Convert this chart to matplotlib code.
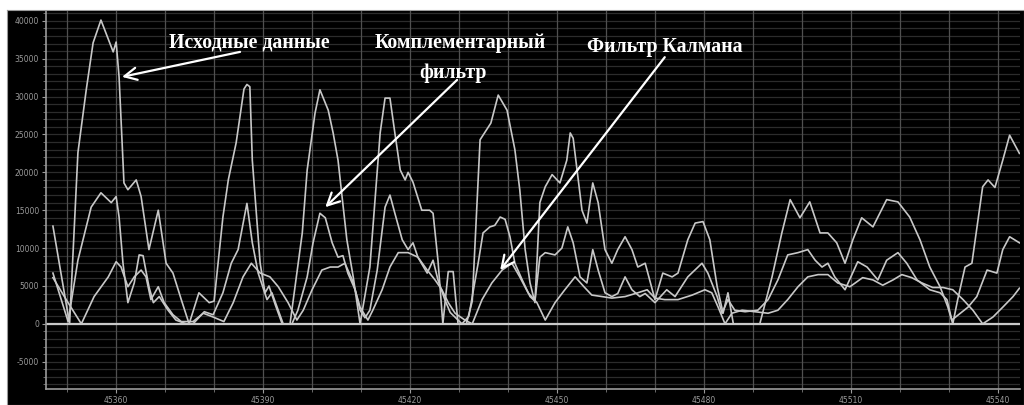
import matplotlib.pyplot as plt
import numpy as np

# raw sensor data
raw_x = [45347.1, 45350.5, 45352.2, 45353.9, 45355.3, 45356.9, 45359.4, 45360.0, 45360.6,
         45361.6, 45362.4, 45364.1, 45365.1, 45366.7, 45368.6, 45370.2, 45371.6, 45373.3,
         45374.9, 45376.9, 45379.0, 45380.0, 45381.8, 45382.9, 45384.5, 45386.1, 45386.7,
         45387.3, 45387.8, 45389.4, 45390.4, 45391.2, 45392.5, 45393.9, 45395.5, 45398.0, 45399.0,
         45400.6, 45401.6, 45403.3, 45404.3, 45405.3, 45407.1, 45408.4, 45409.8, 45411.8,
         45413.9, 45414.9, 45415.9, 45416.9, 45418.0, 45419.0, 45419.6, 45420.6, 45422.4,
         45424.0, 45424.7, 45425.7, 45426.7, 45427.8, 45428.8, 45429.8, 45431.5, 45432.7,
         45434.3, 45436.5, 45438.0, 45439.8, 45441.4, 45442.4, 45443.5, 45444.5, 45445.5,
         45446.5, 45447.6, 45449.0, 45450.6, 45452.0, 45452.7, 45453.3, 45454.1, 45455.1,
         45456.1, 45457.3, 45458.4, 45459.8, 45461.2, 45462.4, 45463.9, 45465.3, 45466.5,
         45468.0, 45470.0, 45471.6, 45473.5, 45474.7, 45476.7, 45478.2, 45479.8, 45481.2,
         45482.7, 45483.9, 45484.9, 45486.0, 45491.4, 45493.9, 45495.9, 45497.6, 45499.6,
         45501.6, 45503.7, 45505.3, 45507.1, 45508.8, 45510.4, 45512.2, 45514.5, 45517.3,
         45519.6, 45522.0, 45524.1, 45526.1, 45528.2, 45529.8, 45530.8, 45531.8, 45533.3,
         45534.7, 45536.9, 45538.0, 45539.4, 45541.0, 45542.4, 45544.4]
raw_y = [12900, 0, 22600, 30900, 37100, 40100, 35900, 37200, 32600,
         18600, 17700, 19000, 16800, 9800, 15000, 8000, 6700, 3200,
         0, 4100, 2800, 3000, 14100, 19000, 23900, 31000, 31600,
         31300, 21600, 8000, 4100, 5000, 2500, 0, 0, 12000, 20300,
         27800, 30900, 28200, 25200, 21600, 11100, 6200, 0, 7500,
         25200, 29800, 29800, 25200, 20300, 19000, 20000, 18700, 15000,
         15000, 14600, 8400, 0, 6900, 6900, 0, 0, 3000,
         24300, 26500, 30200, 28200, 23000, 17700, 9800, 5400, 2800,
         16000, 18100, 19700, 18600, 21600, 25200, 24500, 20300, 15000,
         13300, 18600, 16000, 9800, 8000, 9800, 11500, 9800, 7500,
         8000, 3200, 6700, 6200, 6700, 11100, 13300, 13500, 11100,
         4900, 1400, 4100, 0, 0, 6200, 12000, 16400, 14000,
         16100, 12000, 12000, 10700, 8000, 11100, 14000, 12800, 16400,
         16100, 14100, 11100, 7500, 4900, 2200, 0, 3200, 7500,
         8000, 18100, 19000, 18000, 21600, 24900, 22500]

# complementary filter
comp_x = [45347.1, 45350.2, 45352.2, 45354.9, 45356.9, 45359.0, 45360.0, 45360.6, 45361.4,
          45362.4, 45363.7, 45364.7, 45365.5, 45366.7, 45367.6, 45368.8, 45370.6, 45372.2,
          45374.3, 45375.7, 45378.0, 45379.8, 45381.8, 45383.5, 45384.9, 45386.7, 45387.8,
          45389.0, 45390.8, 45391.8, 45393.1, 45394.1, 45395.9, 45397.1, 45399.0, 45400.2,
          45401.6, 45402.7, 45404.1, 45405.3, 45406.3, 45407.3, 45408.8, 45409.8, 45410.8,
          45411.8, 45413.3, 45414.9, 45415.9, 45416.9, 45418.4, 45419.6, 45420.6, 45421.6,
          45423.5, 45424.7, 45425.7, 45427.1, 45428.2, 45430.6, 45432.0, 45433.9, 45434.9,
          45436.3, 45437.3, 45438.4, 45439.4, 45440.4, 45441.4, 45442.9, 45444.5, 45445.5,
          45446.5, 45447.6, 45449.6, 45451.0, 45452.2, 45453.3, 45454.7, 45456.1, 45457.3,
          45458.4, 45459.8, 45461.2, 45462.4, 45463.9, 45465.3, 45466.9, 45468.0, 45470.0,
          45472.4, 45474.1, 45476.7, 45479.6, 45480.8, 45482.7, 45483.7, 45484.9, 45486.3,
          45488.4, 45491.0, 45493.1, 45495.1, 45497.1, 45499.2, 45501.2, 45502.7, 45504.1,
          45505.3, 45506.7, 45508.8, 45511.4, 45513.3, 45515.5, 45517.3, 45519.6, 45521.4,
          45523.5, 45526.1, 45528.2, 45529.6, 45530.6, 45533.9, 45535.7, 45537.8, 45539.8,
          45541.0, 45542.4, 45544.4]
comp_y = [6700, 300, 8400, 15400, 17300, 16000, 16800, 14100, 8000,
          2800, 5400, 9100, 9000, 4900, 2800, 3600, 1800, 500,
          0, 0, 1600, 1200, 4100, 8000, 9800, 15900, 10700,
          6700, 3200, 4100, 1800, 0, 0, 1800, 6200, 10700,
          14600, 14000, 10700, 8800, 9000, 6700, 4500, 1800, 800,
          1800, 7100, 15400, 17000, 14600, 11100, 9800, 10700, 8800,
          6700, 8400, 5800, 3200, 1500, 0, 1000, 8000, 12000,
          12800, 13000, 14100, 13800, 11500, 8000, 5800, 3600, 3000,
          8800, 9400, 9100, 10000, 12800, 10700, 6200, 5400, 9800,
          7100, 4100, 3600, 4000, 6200, 4500, 3600, 4000, 2800,
          4500, 3600, 6200, 8000, 6700, 3600, 1400, 3200, 1800,
          1600, 1800, 3200, 5800, 9100, 9400, 9800, 8400, 7500,
          8000, 6200, 4500, 8200, 7500, 5800, 8400, 9400, 8000,
          5800, 4500, 4100, 3200, 500, 2200, 3600, 7100, 6700,
          9800, 11500, 10700]

# Kalman filter
kal_x = [45347.1, 45349.8, 45352.9, 45355.5, 45358.4, 45360.0, 45361.0, 45362.4, 45363.7,
         45365.1, 45366.1, 45367.1, 45368.6, 45369.8, 45371.6, 45373.3, 45375.7, 45377.8,
         45379.8, 45382.0, 45383.9, 45385.9, 45387.6, 45389.4, 45391.4, 45393.1, 45395.1,
         45396.9, 45398.2, 45400.0, 45402.0, 45403.7, 45405.3, 45406.7, 45408.2, 45409.8,
         45411.4, 45412.4, 45414.3, 45415.9, 45417.6, 45419.6, 45421.6, 45423.5, 45425.1,
         45426.5, 45427.8, 45429.2, 45431.2, 45432.7, 45434.7, 45436.7, 45438.8, 45440.8,
         45442.4, 45444.1, 45445.9, 45447.6, 45449.6, 45451.6, 45453.7, 45455.5, 45457.1,
         45459.2, 45461.2, 45463.9, 45466.5, 45468.4, 45470.0, 45472.0, 45474.7, 45477.6,
         45480.2, 45481.6, 45482.9, 45484.3, 45485.7, 45487.8, 45490.4, 45493.1, 45495.1,
         45497.1, 45499.2, 45501.2, 45503.3, 45505.3, 45507.3, 45509.8, 45512.4, 45514.5,
         45516.5, 45518.6, 45520.4, 45522.4, 45524.5, 45526.7, 45528.8, 45530.8, 45532.9,
         45534.9, 45536.9, 45539.0, 45541.0, 45543.1, 45544.4]
kal_y = [6100, 3200, 0, 3600, 6200, 8200, 7500, 4900, 6200,
         7100, 6200, 3200, 4900, 2800, 1200, 300, 300, 1400,
         900, 300, 2800, 6200, 8000, 6700, 6200, 4900, 2800,
         500, 1800, 4500, 7100, 7500, 7500, 8000, 5800, 2200,
         500, 1800, 4500, 7500, 9400, 9400, 8800, 7100, 5800,
         4500, 2800, 1400, 500, 0, 3200, 5400, 7100, 8000,
         6200, 4100, 2800, 500, 2800, 4500, 6200, 4900, 3800,
         3600, 3400, 3600, 4100, 4500, 3400, 3200, 3200, 3800,
         4500, 4100, 2200, 0, 1400, 1800, 1600, 1400, 1800,
         3200, 4900, 6200, 6500, 6500, 5400, 4900, 6100, 5800,
         5100, 5800, 6500, 6100, 5400, 4800, 4800, 4500, 3200,
         1800, 0, 900, 2200, 3600, 4700]

x_labels = [45360, 45390, 45420, 45450, 45480, 45510, 45540]

fig = plt.figure(figsize=(10.24, 4.05), dpi=100)
fig.patch.set_facecolor('white')

# black backdrop behind the whole chart
bg = fig.add_axes([0.0068, 0, 0.9932, 0.975], zorder=-1)
bg.set_facecolor('black')
bg.set_xticks([])
bg.set_yticks([])
for s in bg.spines.values():
    s.set_color('#9a9a9a')

ax = fig.add_axes([0.045, 0.0395, 0.951, 0.9334], zorder=1)
ax.set_facecolor('black')
ax.set_xlim(45345.7, 45544.5)
ax.set_ylim(-8600, 41300)

# grid
for y in np.arange(-8000, 41001, 1000):
    ax.axhline(y, color='#2c2c2c', lw=0.9, zorder=1)
for x in np.arange(45350, 45545, 10):
    ax.axvline(x, color='#505050', lw=0.9, zorder=1)
ax.axhline(0, color='#c8c8c8', lw=1.6, zorder=2)

lc = '#c8c8c8'
ax.plot(raw_x, raw_y, color=lc, lw=1.2, zorder=3)
ax.plot(comp_x, comp_y, color=lc, lw=1.2, zorder=3)
ax.plot(kal_x, kal_y, color=lc, lw=1.2, zorder=3)

ax.set_yticks(np.arange(-5000, 40001, 5000))
ax.set_yticklabels([str(v) for v in range(-5000, 40001, 5000)])
ax.set_yticks(np.arange(-8000, 41001, 1000), minor=True)
ax.set_xticks(x_labels)
ax.set_xticks(np.arange(45350, 45545, 10), minor=True)
ax.tick_params(colors='#9a9a9a', labelsize=5.5, length=3, width=0.8, pad=2)
ax.tick_params(which='minor', colors='#7a7a7a', length=2, width=0.6)
for s in ['top', 'right']:
    ax.spines[s].set_visible(False)
for s in ['left', 'bottom']:
    ax.spines[s].set_color('#9a9a9a')
    ax.spines[s].set_linewidth(1.2)

# annotations
tf = dict(color='white', fontsize=14.3, fontweight='bold', family='Liberation Serif',
          ha='center', va='center', zorder=5)
ax.text(45387.1, 37100, 'Исходные данные', **tf)
ax.text(45430.2, 37100, 'Комплементарный', **tf)
ax.text(45428.8, 33100, 'фильтр', **tf)
ax.text(45472.0, 36600, 'Фильтр Калмана', **tf)

ap = dict(arrowstyle='->', color='white', lw=1.6, mutation_scale=22, shrinkA=0, shrinkB=0)
ax.annotate('', xy=(45361.2, 32600), xytext=(45385.3, 35900), arrowprops=ap, zorder=5)
ax.annotate('', xy=(45402.7, 15400), xytext=(45429.6, 32200), arrowprops=ap, zorder=5)
ax.annotate('', xy=(45438.4, 7100), xytext=(45472.0, 35200), arrowprops=ap, zorder=5)

fig.savefig('out.png', dpi=100, facecolor='white')
